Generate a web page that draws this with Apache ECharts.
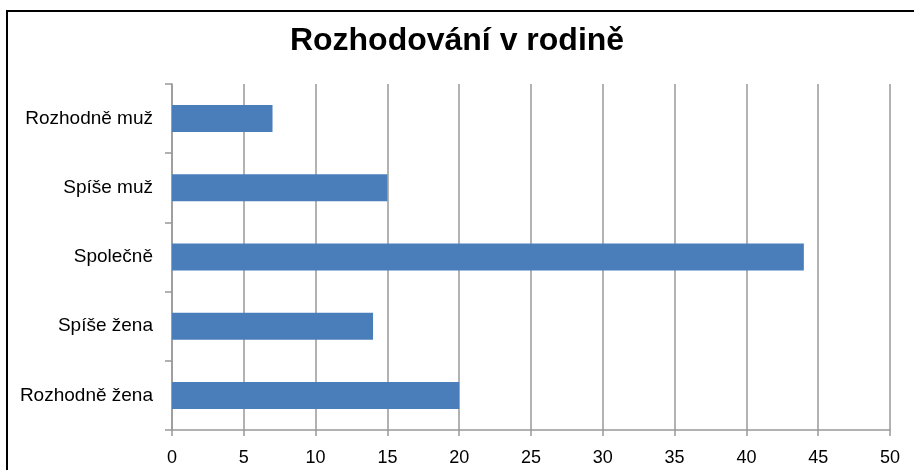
<!DOCTYPE html>
<html>
<head>
<meta charset="utf-8">
<script src="https://cdn.jsdelivr.net/npm/echarts@6/dist/echarts.min.js"></script>
<style>
  html, body { margin: 0; padding: 0; background: #fff; }
  #chart { width: 914px; height: 470px; }
</style>
</head>
<body>
<div id="chart"></div>
<script>
// kategorie shora dolu
var categories = ['Rozhodně muž', 'Spíše muž', 'Společně', 'Spíše žena', 'Rozhodně žena'];
var values = [7, 15, 44, 14, 20];
var xTicks = [0, 5, 10, 15, 20, 25, 30, 35, 40, 45, 50];

var chart = echarts.init(document.getElementById('chart'));

var option = {
  backgroundColor: '#fff',
  animation: false,
  title: {
    text: 'Rozhodování v rodině',
    left: 'center',
    top: 20,
    textStyle: {
      fontFamily: 'Liberation Sans',
      fontSize: 32,
      fontWeight: 'bold',
      color: '#000'
    }
  },
  graphic: [{
    // ramecek grafu (orezany vpravo a dole)
    type: 'rect',
    shape: { x: 7, y: 11, width: 1200, height: 1200 },
    style: { fill: 'none', stroke: '#000', lineWidth: 2 },
    silent: true
  }],
  grid: {
    left: 172,
    right: 24,
    top: 84,
    bottom: 40
  },
  xAxis: {
    type: 'value',
    min: xTicks[0],
    max: xTicks[xTicks.length - 1],
    interval: 5,
    axisLine: { show: true, lineStyle: { color: '#999', width: 1.5 } },
    axisTick: { show: true, length: 6, lineStyle: { color: '#999', width: 1.5 } },
    splitLine: { show: true, lineStyle: { color: '#999', width: 1.5 } },
    axisLabel: {
      fontFamily: 'Liberation Sans',
      fontSize: 18,
      color: '#000',
      margin: 19
    }
  },
  yAxis: {
    type: 'category',
    data: categories,
    inverse: true,
    axisLine: { show: true, lineStyle: { color: '#999', width: 1.5 } },
    axisTick: { show: true, length: 7, alignWithLabel: false, lineStyle: { color: '#999', width: 1.5 } },
    axisLabel: {
      fontFamily: 'Liberation Sans',
      fontSize: 19,
      color: '#000',
      margin: 19
    }
  },
  series: [{
    type: 'bar',
    data: values,
    barWidth: '39%',
    itemStyle: { color: '#4A7EBB' }
  }]
};

chart.setOption(option);
</script>
</body>
</html>
